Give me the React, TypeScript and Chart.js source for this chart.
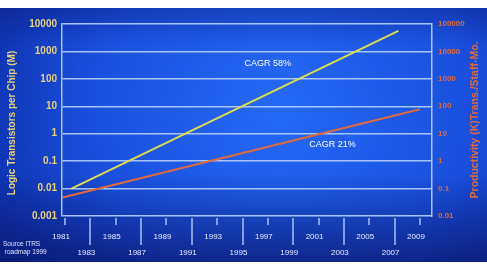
import { useEffect, useRef } from 'react';
import { Chart, registerables } from 'chart.js';

Chart.register(...registerables);

// Horizontal axis: years, labelled every two years
const yearTicks = [1981, 1983, 1985, 1987, 1989, 1991, 1993, 1995, 1997, 1999, 2001, 2003, 2005, 2007, 2009];
const yearLabels = ['1981', '1983', '1985', '1987', '1989', '1991', '1993', '1995', '1997', '1999', '2001', '2003', '2005', '2007', '2009'];

// Left axis: logic transistors per chip (M)
const leftTicks = [0.001, 0.01, 0.1, 1, 10, 100, 1000, 10000];
const leftTickLabels = ['0.001', '0.01', '0.1', '1', '10', '100', '1000', '10000'];

// Right axis: productivity (K) transistors per staff-month
const rightTicks = [0.01, 0.1, 1, 10, 100, 1000, 10000, 100000];
const rightTickLabels = ['0.01', '0.1', '1', '10', '100', '1000', '10000', '100000'];

// Transistors per chip trend (left axis)
const transistorYears = [1981.5, 2007.3];
const transistorValues = [0.01, 5600];

// Designer productivity trend (right axis)
const productivityYears = [1980.8, 2009];
const productivityValues = [0.047, 78];

// Growth-rate annotations, placed in left-axis units
const cagrTexts = ['CAGR 58%', 'CAGR 21%'];
const cagrYears = [1997, 2002.1];
const cagrValues = [360, 0.4];

const leftTitle = 'Logic Transistors per Chip (M)';
const rightTitle = 'Productivity (K)Trans./Staff-Mo.';
const sourceLines = ['Source ITRS', ' roadmap 1999'];

const GRID = 'rgba(184, 210, 250, 0.9)';
const YELLOW = '#dcdc4c';
const ORANGE = '#e0693a';
const LEFT_TEXT = '#e8d07e';
const FONT = '"Liberation Sans", Arial, sans-serif';

const decorPlugin = {
  id: 'decor',
  beforeDraw(chart: any) {
    const { ctx, width, height } = chart;
    ctx.save();
    const rg = ctx.createRadialGradient(280, 100, 10, 280, 100, 330);
    rg.addColorStop(0, '#2468f4');
    rg.addColorStop(0.55, '#1a50de');
    rg.addColorStop(1, '#0c2ba4');
    ctx.fillStyle = rg;
    ctx.fillRect(0, 0, width, height);
    const lg = ctx.createLinearGradient(0, 0, 0, height);
    lg.addColorStop(0, 'rgba(6, 20, 110, 0.35)');
    lg.addColorStop(0.15, 'rgba(6, 20, 110, 0)');
    lg.addColorStop(0.65, 'rgba(6, 18, 100, 0)');
    lg.addColorStop(1, 'rgba(6, 16, 96, 0.65)');
    ctx.fillStyle = lg;
    ctx.fillRect(0, 0, width, height);
    ctx.restore();
  },
  afterDraw(chart: any) {
    const { ctx, chartArea } = chart;
    const xs = chart.scales.x;
    const yl = chart.scales.yLeft;
    ctx.save();

    // alternating short / long tick marks below the plot
    ctx.strokeStyle = GRID;
    ctx.lineWidth = 1.5;
    yearTicks.forEach((yr, i) => {
      const px = Math.round(xs.getPixelForValue(yr));
      ctx.beginPath();
      ctx.moveTo(px, chartArea.bottom + 2);
      ctx.lineTo(px, chartArea.bottom + (i % 2 === 0 ? 9 : 29));
      ctx.stroke();
    });

    // axis titles, both reading upward
    const midY = (chartArea.top + chartArea.bottom) / 2;
    ctx.textAlign = 'center';
    ctx.textBaseline = 'middle';
    ctx.save();
    ctx.font = `bold 10px ${FONT}`;
    ctx.translate(12, midY + 3);
    ctx.rotate(-Math.PI / 2);
    ctx.fillStyle = LEFT_TEXT;
    ctx.fillText(leftTitle, 0, 0);
    ctx.restore();
    ctx.save();
    ctx.font = `bold 10.5px ${FONT}`;
    ctx.translate(475, midY);
    ctx.rotate(-Math.PI / 2);
    ctx.fillStyle = ORANGE;
    ctx.fillText(rightTitle, 0, 0);
    ctx.restore();

    // growth-rate notes
    ctx.font = `9px ${FONT}`;
    ctx.fillStyle = '#ffffff';
    cagrTexts.forEach((t, i) => {
      ctx.fillText(t, xs.getPixelForValue(cagrYears[i]), yl.getPixelForValue(cagrValues[i]));
    });

    // source note
    ctx.font = `6.5px ${FONT}`;
    ctx.textAlign = 'left';
    ctx.fillStyle = '#dfe6ff';
    sourceLines.forEach((t, i) => {
      ctx.fillText(t, 3, chartArea.bottom + 28 + i * 8);
    });
    ctx.restore();
  },
};

export default function App() {
  const canvasRef = useRef<HTMLCanvasElement | null>(null);

  useEffect(() => {
    if (!canvasRef.current) return;
    const chart = new Chart(canvasRef.current, {
      type: 'line',
      data: {
        datasets: [
          {
            label: 'Logic transistors per chip',
            data: transistorYears.map((x, i) => ({ x, y: transistorValues[i] })),
            borderColor: YELLOW,
            borderWidth: 2,
            pointRadius: 0,
            yAxisID: 'yLeft',
          },
          {
            label: 'Productivity',
            data: productivityYears.map((x, i) => ({ x, y: productivityValues[i] })),
            borderColor: ORANGE,
            borderWidth: 2,
            pointRadius: 0,
            yAxisID: 'yRight',
          },
        ],
      },
      options: {
        animation: false,
        responsive: false,
        devicePixelRatio: 1,
        layout: { padding: { top: 16, left: 0, right: 0, bottom: 0 } },
        plugins: { legend: { display: false }, tooltip: { enabled: false } },
        scales: {
          x: {
            type: 'linear',
            position: 'bottom',
            min: 1980.76,
            max: 2009.95,
            grid: { display: false, drawTicks: false },
            border: { display: false },
            afterBuildTicks: (scale: any) => {
              scale.ticks = yearTicks.map((value) => ({ value }));
            },
            afterFit: (scale: any) => {
              scale.height = 46;
            },
            ticks: {
              autoSkip: false,
              maxRotation: 0,
              padding: 13,
              labelOffset: -4,
              color: '#e6ecff',
              font: { family: FONT, size: 8, lineHeight: 2 },
              callback: (_v: any, i: number) => (i % 2 === 0 ? yearLabels[i] : ['', yearLabels[i]]),
            },
          },
          yLeft: {
            type: 'logarithmic',
            position: 'left',
            min: 0.001,
            max: 10000,
            grid: { color: GRID, lineWidth: 1.5, drawTicks: false },
            border: { display: true, color: GRID, width: 1.5 },
            afterBuildTicks: (scale: any) => {
              scale.ticks = leftTicks.map((value) => ({ value, major: false }));
            },
            afterFit: (scale: any) => {
              scale.width = 62;
            },
            ticks: {
              autoSkip: false,
              padding: 5,
              color: LEFT_TEXT,
              font: { family: FONT, size: 10, weight: 'bold' },
              callback: (_v: any, i: number) => leftTickLabels[i],
            },
          },
          yRight: {
            type: 'logarithmic',
            position: 'right',
            min: 0.01,
            max: 100000,
            grid: { drawOnChartArea: false, drawTicks: false },
            border: { display: true, color: GRID, width: 1.5 },
            afterBuildTicks: (scale: any) => {
              scale.ticks = rightTicks.map((value) => ({ value, major: false }));
            },
            afterFit: (scale: any) => {
              scale.width = 55;
            },
            ticks: {
              autoSkip: false,
              padding: 6,
              color: ORANGE,
              font: { family: FONT, size: 8, weight: 'bold' },
              callback: (_v: any, i: number) => rightTickLabels[i],
            },
          },
        },
      },
      plugins: [decorPlugin],
    } as any);
    return () => chart.destroy();
  }, []);

  return (
    <div style={{ position: 'absolute', left: 0, top: 8, width: 487, height: 254 }}>
      <canvas ref={canvasRef} width={487} height={254} style={{ display: 'block' }} />
    </div>
  );
}
